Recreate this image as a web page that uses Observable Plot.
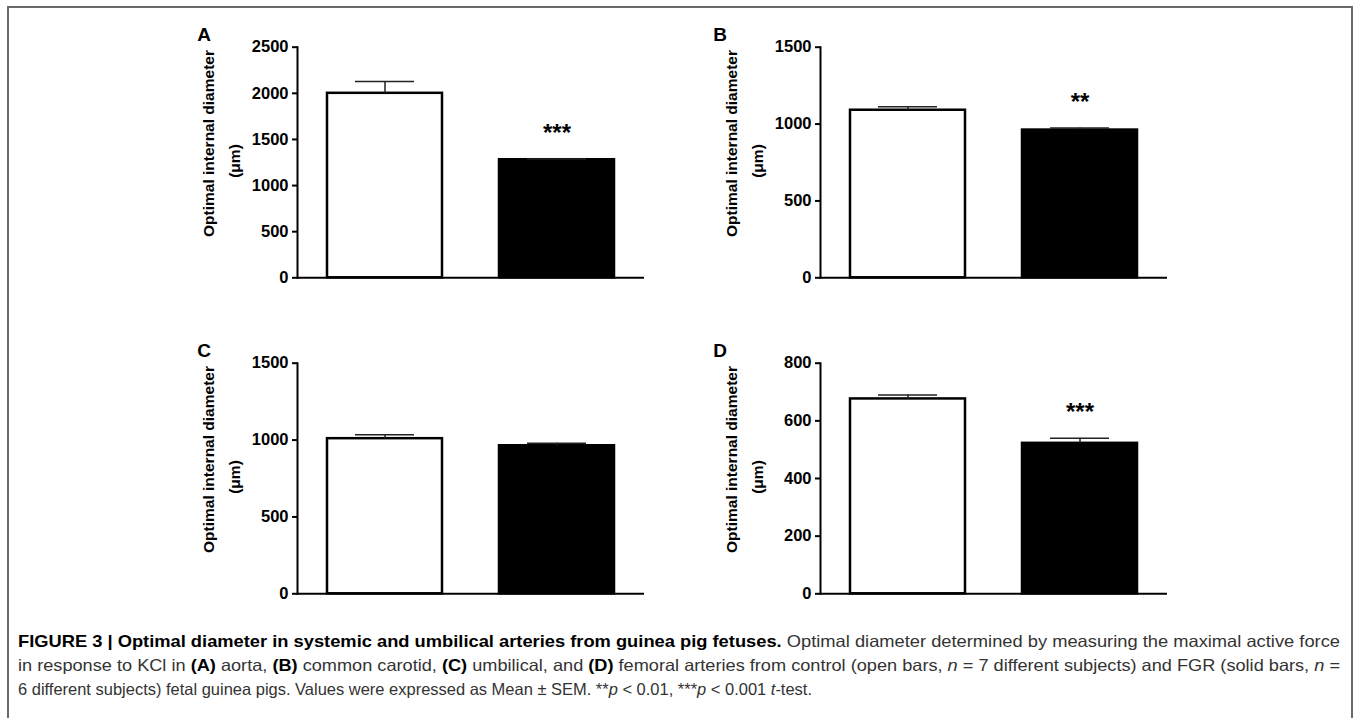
<!DOCTYPE html>
<html>
<head>
<meta charset="utf-8">
<script src="https://cdn.jsdelivr.net/npm/d3@7"></script>
<script src="https://cdn.jsdelivr.net/npm/@observablehq/plot@0.6"></script>
<style>
  html, body { margin: 0; padding: 0; background: #fff; }
  #page { position: relative; width: 1360px; height: 718px; overflow: hidden; font-family: "Liberation Sans", Arial, sans-serif; }
  #frame { position: absolute; left: 7px; top: 6px; width: 1346px; height: 800px; border: 2px solid #6a6a6a; box-sizing: border-box; }
  .panel { position: absolute; }
  #caption { position: absolute; left: 18px; top: 629px; font-size: 16.5px; line-height: 24px; color: #333; white-space: nowrap; }
  #caption .line { display: block; width: max-content; transform-origin: 0 0; }
  #caption b { color: #000; }
</style>
</head>
<body>
<div id="page">
  <div id="frame"></div>
  <div id="pA" class="panel" style="left:170px; top:8px;"></div>
  <div id="pB" class="panel" style="left:693px; top:8px;"></div>
  <div id="pC" class="panel" style="left:170px; top:324px;"></div>
  <div id="pD" class="panel" style="left:693px; top:324px;"></div>
  <div id="caption">
    <span class="line" data-w="1322"><b>FIGURE 3 | Optimal diameter in systemic and umbilical arteries from guinea pig fetuses.</b> Optimal diameter determined by measuring the maximal active force</span>
    <span class="line" data-w="1322">in response to KCl in <b>(A)</b> aorta, <b>(B)</b> common carotid, <b>(C)</b> umbilical, and <b>(D)</b> femoral arteries from control (open bars, <i>n</i> = 7 different subjects) and FGR (solid bars, <i>n</i> =</span>
    <span class="line" data-w="794">6 different subjects) fetal guinea pigs. Values were expressed as Mean ± SEM. **<i>p</i> &lt; 0.01, ***<i>p</i> &lt; 0.001 <i>t</i>-test.</span>
  </div>
</div>
<script>
// ---- data ----
const categories = ["Control", "FGR"];
const panelLetters = ["A", "B", "C", "D"];
const controlMean = [2000, 1090, 1009, 676];
const controlSem  = [127, 22, 26, 14];
const fgrMean     = [1280, 961, 963, 522];
const fgrSem      = [8, 13, 17, 18];
const significance = ["***", "**", "", "***"];
const yMax = [2500, 1500, 1500, 800];
const yTicks = [
  [0, 500, 1000, 1500, 2000, 2500],
  [0, 500, 1000, 1500],
  [0, 500, 1000, 1500],
  [0, 200, 400, 600, 800]
];
const yLabelLine1 = "Optimal internal diameter";
const yLabelLine2 = "(\u03bcm)";

// ---- layout ----
const containers = ["pA", "pB", "pC", "pD"];
const letterDx = [-93.5, -100.5, -93.5, -100.5];

panelLetters.forEach((letter, i) => {
  const rows = [
    {group: categories[0], mean: controlMean[i], sem: controlSem[i], sig: ""},
    {group: categories[1], mean: fgrMean[i], sem: fgrSem[i], sig: significance[i]}
  ];
  const chart = Plot.plot({
    width: 490,
    height: 290,
    marginLeft: 127,
    marginRight: 16,
    marginTop: 38.7,
    marginBottom: 20.7,
    style: {background: "transparent", overflow: "visible", color: "#000",
            fontFamily: "'Liberation Sans', Arial, sans-serif", fontWeight: "bold"},
    x: {type: "band", domain: categories, paddingInner: 0.33, paddingOuter: 0.168, axis: null},
    y: {domain: [0, yMax[i]], axis: null},
    marks: [
      Plot.barY(rows.filter(d => d.group === categories[0]), {x: "group", y: "mean", fill: "white", stroke: "black", strokeWidth: 2.5}),
      Plot.barY(rows.filter(d => d.group === categories[1]), {x: "group", y: "mean", fill: "black", stroke: "black", strokeWidth: 2.5}),
      Plot.ruleX(rows, {x: "group", y1: "mean", y2: d => d.mean + d.sem, stroke: "#222", strokeWidth: 1.5}),
      Plot.tickY(rows, {x: "group", y: d => d.mean + d.sem, insetLeft: 28, insetRight: 28, stroke: "#222", strokeWidth: 1.5}),
      Plot.axisY({ticks: yTicks[i], tickSize: 5, tickPadding: 4, tickFormat: d => String(d), fontSize: 16.5, strokeWidth: 2, label: null}),
      Plot.frame({anchor: "left", strokeWidth: 2}),
      Plot.ruleY([0], {strokeWidth: 2}),
      Plot.text(rows.filter(d => d.sig), {x: "group", y: d => d.mean + d.sem, text: "sig", dy: -26, fontSize: 24, fontWeight: "bold"}),
      Plot.text([yLabelLine1], {frameAnchor: "left", rotate: -90, dx: -88.5, dy: -19, textAnchor: "middle", lineAnchor: "middle", fontSize: 15.5, fontWeight: "bold", text: d => d}),
      Plot.text([yLabelLine2], {frameAnchor: "left", rotate: -90, dx: -62, dy: -1.5, textAnchor: "middle", lineAnchor: "middle", fontSize: 15.5, fontWeight: "bold", text: d => d}),
      Plot.text([letter], {frameAnchor: "top-left", dx: letterDx[i], dy: -12.7, textAnchor: "middle", lineAnchor: "middle", fontSize: 19, fontWeight: "bold", text: d => d})
    ]
  });
  document.getElementById(containers[i]).appendChild(chart);
});

// fit each caption line to the width it occupies in the figure
document.querySelectorAll("#caption .line").forEach(el => {
  const target = +el.dataset.w;
  const w = el.getBoundingClientRect().width;
  if (w > 0) el.style.transform = `scaleX(${target / w})`;
});
</script>
</body>
</html>
